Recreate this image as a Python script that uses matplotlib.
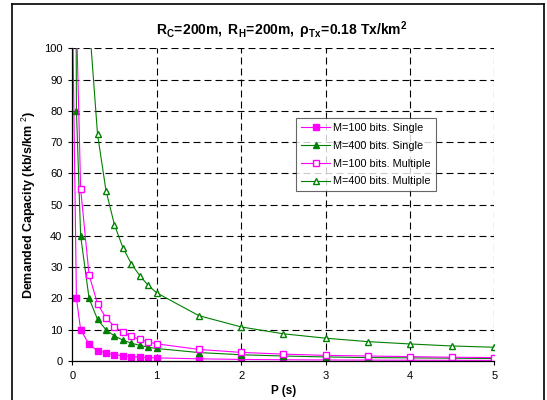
import matplotlib
matplotlib.use("Agg")
import matplotlib.pyplot as plt
from matplotlib.lines import Line2D

plt.rcParams['font.family'] = ['Liberation Sans', 'DejaVu Sans']
plt.rcParams['mathtext.fontset'] = 'custom'
plt.rcParams['mathtext.rm'] = 'Liberation Sans'
plt.rcParams['mathtext.it'] = 'Liberation Sans:italic'
plt.rcParams['mathtext.bf'] = 'Liberation Sans:bold'

# Data
P = [0.01, 0.05, 0.1, 0.2, 0.3, 0.4, 0.5, 0.6, 0.7, 0.8, 0.9, 1.0,
     1.5, 2.0, 2.5, 3.0, 3.5, 4.0, 4.5, 5.0]
m100_single = [100, 20, 10, 5.3, 3.3, 2.6, 2.0, 1.7, 1.4, 1.3, 1.1, 1.0,
               0.7, 0.5, 0.4, 0.33, 0.29, 0.25, 0.22, 0.2]
m400_single = [400, 80, 40, 20, 13.3, 10, 8.0, 6.7, 5.7, 5.0, 4.4, 4.0,
               2.7, 2.0, 1.6, 1.3, 1.1, 1.0, 0.9, 0.8]
m100_multi = [550, 110, 55, 27.5, 18.3, 13.8, 11.0, 9.2, 7.9, 6.9, 6.1, 5.5,
              3.7, 2.75, 2.2, 1.8, 1.6, 1.4, 1.2, 1.1]
m400_multi = [2180, 436, 218, 109, 72.5, 54.5, 43.6, 36.3, 31.1, 27.3, 24.2, 21.8,
              14.5, 10.9, 8.7, 7.3, 6.2, 5.45, 4.8, 4.4]
series_labels = ["M=100 bits. Single", "M=400 bits. Single",
                 "M=100 bits. Multiple", "M=400 bits. Multiple"]
xticks = [0, 1, 2, 3, 4, 5]
yticks = [0, 10, 20, 30, 40, 50, 60, 70, 80, 90, 100]

MAG = '#FF00FF'
GRN = '#008000'

fig = plt.figure(figsize=(5.47, 4.0), dpi=100)
ax = fig.add_axes([0.132, 0.0975, 0.772, 0.7815])

styles = [
    (m100_single, MAG, 's', MAG),
    (m400_single, GRN, '^', GRN),
    (m100_multi, MAG, 's', 'white'),
    (m400_multi, GRN, '^', 'white'),
]
for (vals, col, mk, fc), lab in zip(styles, series_labels):
    ax.plot(P, vals, color=col, lw=0.8, marker=mk, markersize=5,
            markerfacecolor=fc, markeredgecolor=col, markeredgewidth=1.0,
            markevery=slice(1, None), label=lab, zorder=3)

ax.set_xlim(0, 5)
ax.set_ylim(0, 100)
ax.set_xticks(xticks)
ax.set_yticks(yticks)
ax.tick_params(axis='both', labelsize=8, direction='out', length=3, width=0.8, pad=4)
for s in ['top', 'right']:
    ax.spines[s].set_visible(False)
for s in ['left', 'bottom']:
    ax.spines[s].set_linewidth(0.9)
    ax.spines[s].set_zorder(4)

for yv in yticks[1:]:
    ax.axhline(yv, color='black', lw=0.8, dashes=(6.3, 3.6), zorder=1)
for xv in xticks[1:]:
    ax.axvline(xv, color='black', lw=0.8, dashes=(6.3, 3.6), zorder=1)

ax.set_xlabel('P (s)', fontsize=8.5, fontweight='bold', labelpad=3)
ax.set_ylabel(r'Demanded Capacity (kb/s/km $^{2}$)', fontsize=9, fontweight='bold', labelpad=4)
fig.text(0.515, 0.925,
         r'$\mathbf{R_{C}\!=\!200m,\ R_{H}\!=\!200m,\ \rho_{Tx}\!=\!0.18\ Tx/km^{2}}$',
         ha='center', va='center', fontsize=10)

leg = ax.legend(loc='upper left', bbox_to_anchor=(0.53, 0.777), fontsize=7.8,
                frameon=True, fancybox=False, edgecolor='#404040',
                handlelength=2.7, labelspacing=0.72, borderpad=0.45,
                handletextpad=0.3, borderaxespad=0)
leg.get_frame().set_linewidth(0.8)

# outer chart border
fig.add_artist(Line2D([12/547, 12/547], [0, 1 - 4/400], color='black', lw=1.2, transform=fig.transFigure))
fig.add_artist(Line2D([12/547, 544/547], [1 - 4/400, 1 - 4/400], color='black', lw=1.2, transform=fig.transFigure))
fig.add_artist(Line2D([544/547, 544/547], [0, 1 - 4/400], color='black', lw=1.2, transform=fig.transFigure))

fig.savefig('out.png', dpi=100)
